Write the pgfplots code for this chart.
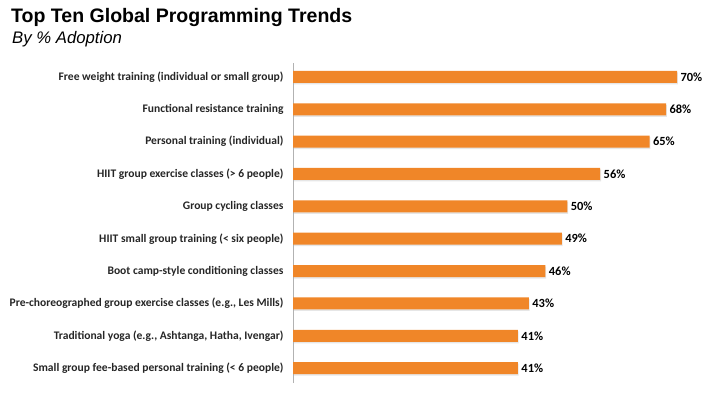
\documentclass[border=0pt]{standalone}
\usepackage{fontspec}
\setmainfont{Carlito}
\newfontfamily\arialfont{Liberation Sans}
\usepackage{pgfplots}
\pgfplotsset{compat=1.18}
\usetikzlibrary{shadows}
\definecolor{barorange}{RGB}{240,134,40}
\begin{document}
\begin{tikzpicture}[x=1bp,y=1bp]
\path[use as bounding box] (0,0) rectangle (720,398);
\node[anchor=base west, font=\arialfont\bfseries\fontsize{19.6}{22}\selectfont, inner sep=0] at (11,376) {Top Ten Global Programming Trends};
\node[anchor=base west, font=\arialfont\itshape\fontsize{16.8}{19}\selectfont, inner sep=0] at (12,355) {By \% Adoption};
\begin{axis}[
 at={(293bp,15bp)}, anchor=south west, scale only axis, width=384bp, height=320bp,
 xmin=0, xmax=70, ymin=-0.46, ymax=9.43,
 xbar, bar width=12bp, bar shift=0pt,
 axis x line=none, axis y line=left, y axis line style={-, draw=gray!60, line width=0.8pt},
 ytick={0,...,9},
 yticklabels={Small group fee-based personal training (< 6 people),
   {Traditional yoga (e.g., Ashtanga, Hatha, Ivengar)},
   {Pre-choreographed group exercise classes (e.g., Les Mills)},
   Boot camp-style conditioning classes,
   HIIT small group training (< six people),
   Group cycling classes,
   HIIT group exercise classes (> 6 people),
   Personal training (individual),
   Functional resistance training,
   Free weight training (individual or small group)},
 major tick length=0,
 yticklabel style={font=\bfseries\fontsize{11.6}{13}\selectfont, text=black!85, xshift=-6bp},
 point meta=x,
 /pgf/number format/assume math mode=true,
 nodes near coords={\pgfmathprintnumber{\pgfplotspointmeta}\%},
 nodes near coords style={font=\bfseries\fontsize{12.5}{14}\selectfont, text=black},
 clip=false,
]
\addplot[fill=barorange, draw=none, drop shadow={opacity=0.2, shadow xshift=0.8bp, shadow yshift=-1.5bp}] coordinates {(41,0) (41,1) (43,2) (46,3) (49,4) (50,5) (56,6) (65,7) (68,8) (70,9)};
\end{axis}
\end{tikzpicture}
\end{document}
